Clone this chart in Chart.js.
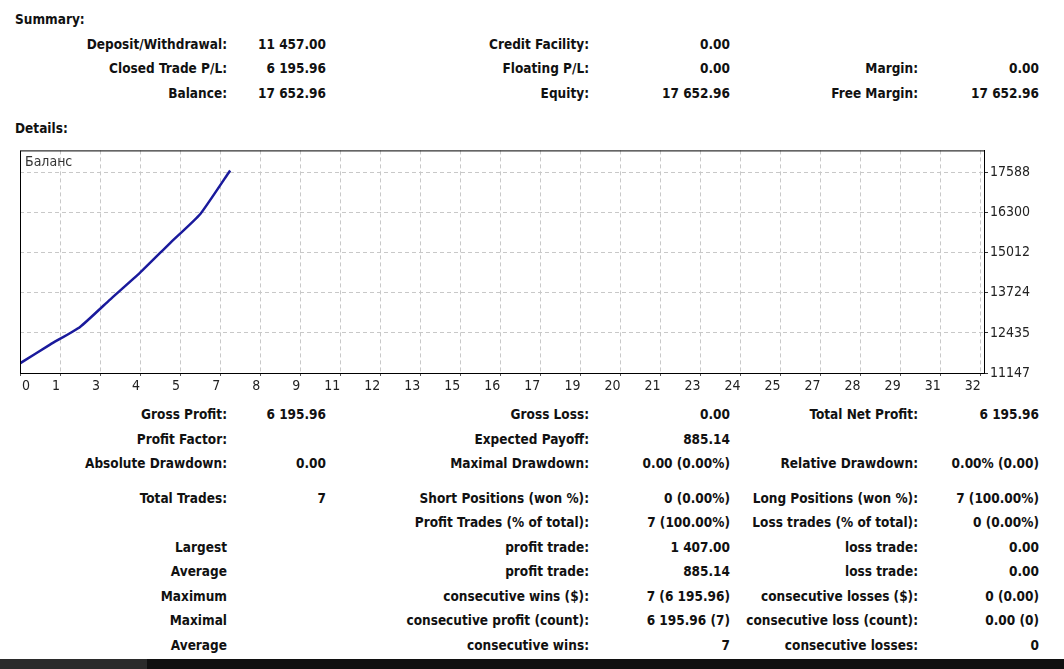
<!DOCTYPE html>
<html>
<head>
<meta charset="utf-8">
<script src="https://cdn.jsdelivr.net/npm/chart.js"></script>
<style>
	html, body { margin: 0; padding: 0; background: #fff; }
	body { width: 1064px; height: 669px; position: relative; overflow: hidden;
		font-family: 'DejaVu Sans Condensed', 'DejaVu Sans', sans-serif; font-stretch: condensed;
		font-weight: bold; font-size: 13.5px; color: #111; }
	.c { position: absolute; white-space: nowrap; text-align: right; line-height: 16px; }
	.h { position: absolute; left: 15px; line-height: 16px; }
	#wrap { position: absolute; left: 0; top: 140px; width: 1064px; height: 260px; }
	#barL { position: absolute; left: 0; top: 659px; width: 147px; height: 10px; background: #2b2b2b; }
	#barR { position: absolute; left: 147px; top: 659px; width: 917px; height: 10px; background: #101010; }
</style>
</head>
<body>
<div class="h" style="top:11px">Summary:</div>
<div class="h" style="top:120px">Details:</div>
<div id="wrap"><canvas id="balanceChart"></canvas></div>
<div id="barL"></div><div id="barR"></div>
<script>
// balance after each closed trade (trade 0 = deposit)
const tradeNo = [0, 1, 2, 3, 4, 5, 6, 7]
const balance = [11457.00, 12060, 12625, 13505, 14370, 15320, 16246, 17652.96]
const yTicks = [11147, 12435, 13724, 15012, 16300, 17588]
const xTickLabels = [0, 1, 3, 4, 5, 7, 8, 9, 11, 12, 13, 15, 16, 17, 19, 20, 21, 23, 24, 25, 27, 28, 29, 31, 32]
const seriesName = 'Баланс'

// report table: [y, label, value, label, value, label, value]
const colRight = [227, 326, 589, 730, 918, 1039]
const reportRows = [
	[44, 'Deposit/Withdrawal:', '11 457.00', 'Credit Facility:', '0.00', '', ''],
	[68, 'Closed Trade P/L:', '6 195.96', 'Floating P/L:', '0.00', 'Margin:', '0.00'],
	[93, 'Balance:', '17 652.96', 'Equity:', '17 652.96', 'Free Margin:', '17 652.96'],
	[414, 'Gross Profit:', '6 195.96', 'Gross Loss:', '0.00', 'Total Net Profit:', '6 195.96'],
	[439, 'Profit Factor:', '', 'Expected Payoff:', '885.14', '', ''],
	[463, 'Absolute Drawdown:', '0.00', 'Maximal Drawdown:', '0.00 (0.00%)', 'Relative Drawdown:', '0.00% (0.00)'],
	[498, 'Total Trades:', '7', 'Short Positions (won %):', '0 (0.00%)', 'Long Positions (won %):', '7 (100.00%)'],
	[522, '', '', 'Profit Trades (% of total):', '7 (100.00%)', 'Loss trades (% of total):', '0 (0.00%)'],
	[547, 'Largest', '', 'profit trade:', '1 407.00', 'loss trade:', '0.00'],
	[571, 'Average', '', 'profit trade:', '885.14', 'loss trade:', '0.00'],
	[596, 'Maximum', '', 'consecutive wins ($):', '7 (6 195.96)', 'consecutive losses ($):', '0 (0.00)'],
	[620, 'Maximal', '', 'consecutive profit (count):', '6 195.96 (7)', 'consecutive loss (count):', '0.00 (0)'],
	[645, 'Average', '', 'consecutive wins:', '7', 'consecutive losses:', '0'],
]

for (const row of reportRows) {
	for (let i = 1; i < row.length; i++) {
		if (!row[i]) continue
		const d = document.createElement('div')
		d.className = 'c'
		d.style.top = (row[0] - 8) + 'px'
		d.style.right = (1064 - colRight[i - 1]) + 'px'
		d.textContent = row[i]
		document.body.appendChild(d)
	}
}

const axisFont = { family: 'DejaVu Sans Condensed', size: 14 }
const gridColor = '#c8c8c8'

// frame around the plot + series name in the corner
const frame = {
	id: 'frame',
	beforeDraw(chart) {
		// first x label sits to the right of the left edge
		const xs = chart.scales.x
		const items = xs.getLabelItems()
		if (items.length) {
			items[0].options.textAlign = 'left'
			items[0].options.translation[0] = xs.left + 2
		}
	},
	afterDraw(chart) {
		const {ctx, chartArea: a} = chart
		ctx.save()
		ctx.strokeStyle = '#000'
		ctx.lineWidth = 1
		ctx.strokeRect(a.left + 0.5, a.top + 0.5, a.right - a.left, a.bottom - a.top)
		ctx.fillStyle = '#333'
		ctx.font = 'normal 14px "DejaVu Sans Condensed", "DejaVu Sans"'
		ctx.textBaseline = 'middle'
		ctx.fillText(seriesName, a.left + 5, a.top + 12)
		ctx.restore()
	}
}

new Chart(document.getElementById('balanceChart'), {
	type: 'line',
	data: {
		datasets: [{
			label: seriesName,
			data: tradeNo.map((t, i) => ({x: t, y: balance[i]})),
			borderColor: '#1a1a9c',
			borderWidth: 2.5,
			pointRadius: 0,
			tension: 0.15,
			fill: false
		}]
	},
	options: {
		responsive: true,
		maintainAspectRatio: false,
		animation: false,
		layout: { padding: { left: 20, top: 10, right: 0, bottom: 0 } },
		plugins: { legend: { display: false }, tooltip: { enabled: false } },
		scales: {
			x: {
				type: 'linear',
				min: 0,
				max: 32.11,
				afterBuildTicks: s => { s.ticks = xTickLabels.map((_, k) => ({value: k * 4 / 3})) },
				afterFit: s => { s.height = 27 },
				ticks: {
					align: 'end',
					padding: 2,
					color: '#222',
					font: axisFont,
					maxRotation: 0,
					autoSkip: false,
					callback: (v, i) => String(xTickLabels[i])
				},
				grid: { color: gridColor, tickColor: '#555', tickLength: 3, tickBorderDash: [], lineWidth: 1 },
				border: { color: '#000', dash: [4, 3], display: true }
			},
			y: {
				position: 'right',
				min: 11147,
				max: 18296,
				afterBuildTicks: s => { s.ticks = yTicks.map(v => ({value: v})) },
				afterFit: s => { s.width = 80 },
				ticks: { padding: 2, color: '#222', font: axisFont, callback: v => String(v) },
				grid: { color: gridColor, tickColor: '#333', tickLength: 4, tickBorderDash: [] },
				border: { color: '#000', dash: [4, 3] }
			}
		}
	},
	plugins: [frame]
})
</script>
</body>
</html>
